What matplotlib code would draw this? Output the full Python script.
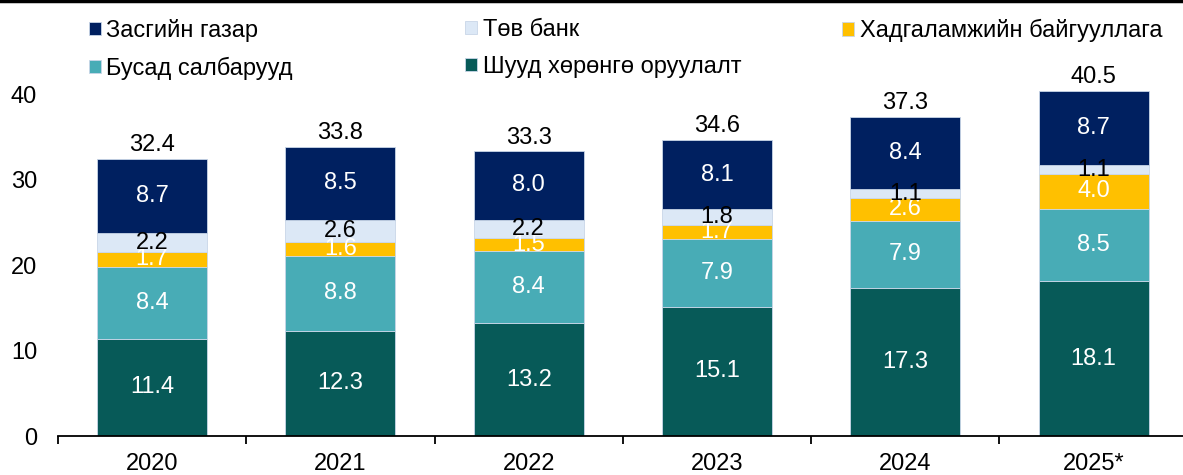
import matplotlib.pyplot as plt
import numpy as np

plt.rcParams['font.family'] = ['Liberation Sans', 'DejaVu Sans']

years = ['2020', '2021', '2022', '2023', '2024', '2025*']
fdi = [11.4, 12.3, 13.2, 15.1, 17.3, 18.1]          # Шууд хөрөнгө оруулалт
other = [8.4, 8.8, 8.4, 7.9, 7.9, 8.5]              # Бусад салбарууд
deposit = [1.7, 1.6, 1.5, 1.7, 2.6, 4.0]            # Хадгаламжийн байгууллага
cbank = [2.2, 2.6, 2.2, 1.8, 1.1, 1.1]              # Төв банк
govt = [8.7, 8.5, 8.0, 8.1, 8.4, 8.7]               # Засгийн газар
totals = [32.4, 33.8, 33.3, 34.6, 37.3, 40.5]

series = [
    ('Шууд хөрөнгө оруулалт', fdi, '#075a58', 'white'),
    ('Бусад салбарууд', other, '#48acb6', 'white'),
    ('Хадгаламжийн байгууллага', deposit, '#ffc000', 'white'),
    ('Төв банк', cbank, '#dce8f6', 'black'),
    ('Засгийн газар', govt, '#002060', 'white'),
]
FS = 17

fig = plt.figure(figsize=(11.83, 4.75), dpi=100)
ax = fig.add_axes([0.049, 0.0821, 0.955, 0.81])

x = np.arange(len(years))
bottom = np.zeros(len(years))
handles = {}
for name, vals, color, tcol in series:
    vals = np.array(vals)
    b = ax.bar(x, vals, 0.585, bottom=bottom, color=color,
               edgecolor='#c9d6e8', linewidth=0.6, label=name)
    handles[name] = b
    for xi, v, bt in zip(x, vals, bottom):
        ax.text(xi, bt + v / 2, f'{v:.1f}', ha='center', va='center',
                color=tcol, fontsize=FS)
    bottom += vals

for xi, t, top in zip(x, totals, bottom):
    ax.annotate(f'{t:.1f}', (xi, top), xytext=(0, 2), textcoords='offset points',
                ha='center', va='bottom', fontsize=FS)

ax.set_xlim(-0.5, 5.5)
ax.set_ylim(0, 45)
ax.set_yticks([0, 10, 20, 30, 40])
ax.set_xticks(x)
ax.set_xticklabels(years)
ax.set_xticks(np.arange(-0.5, 5.5, 1), minor=True)
ax.tick_params(axis='x', which='major', length=0, pad=12, labelsize=FS)
ax.tick_params(axis='x', which='minor', length=6, width=1.3, direction='out')
ax.tick_params(axis='y', length=0, pad=15, labelsize=FS)
for s in ['left', 'right', 'top']:
    ax.spines[s].set_visible(False)
ax.spines['bottom'].set_linewidth(1.3)

# legend: three columns
cols = [
    (0.075, ['Засгийн газар', 'Бусад салбарууд']),
    (0.393, ['Төв банк', 'Шууд хөрөнгө оруулалт']),
    (0.712, ['Хадгаламжийн байгууллага']),
]
for xpos, names in cols:
    fig.legend([handles[n] for n in names], names, loc='upper left',
               bbox_to_anchor=(xpos, 0.96), frameon=False, fontsize=FS,
               handlelength=0.5, handleheight=0.5, handletextpad=0.25,
               labelspacing=0.62, borderaxespad=0, borderpad=0)

fig.add_artist(plt.Line2D([0, 1], [0.997, 0.997], color='black', lw=2.5,
                          transform=fig.transFigure))

fig.savefig('out.png', dpi=100)
